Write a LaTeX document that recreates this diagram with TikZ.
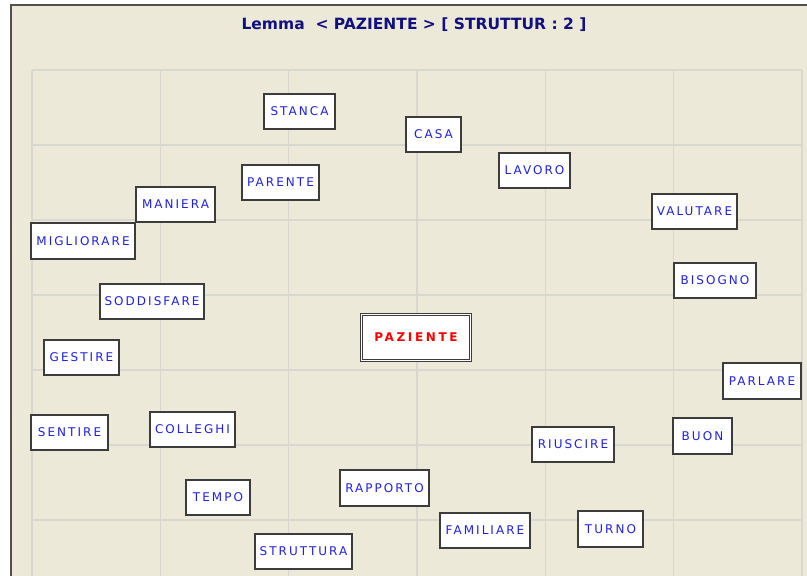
\documentclass[tikz,border=0pt]{standalone}
\usepackage{fontspec}
\setmainfont{DejaVu Sans}
\newfontfamily\boxfont[LetterSpace=17]{DejaVu Sans}
\newfontfamily\lemmafont[LetterSpace=22]{DejaVu Sans}
\newfontfamily\titlefont{DejaVu Sans}
\definecolor{panelbg}{RGB}{236,233,216}
\definecolor{gridline}{RGB}{216,215,208}
\definecolor{boxedge}{RGB}{60,60,60}
\definecolor{wordblue}{RGB}{32,32,228}
\definecolor{titleblue}{RGB}{16,16,128}
\definecolor{panelframe}{RGB}{80,80,76}
\begin{document}
\begin{tikzpicture}[x=1pt,y=-1pt,
  wordbox/.style={draw=boxedge, line width=2pt, fill=white, inner sep=0pt,
    minimum height=35pt, text=wordblue, font=\boxfont\fontsize{12}{14}\selectfont},
  lemmabox/.style={draw=boxedge, double=white, double distance=1.2pt, line width=1.1pt,
    fill=white, inner sep=0pt, minimum height=45.6pt, minimum width=108.6pt, text=red,
    font=\lemmafont\bfseries\fontsize{12}{14}\selectfont},
  gridstroke/.style={draw=gridline, line width=1.5pt}]
\useasboundingbox (0,0) rectangle (807,576);
% panel background and frame
\fill[white] (0,0) rectangle (807,576);
\fill[panelbg] (11,5) rectangle (807,576);
\draw[panelframe, line width=2pt] (11,576) -- (11,5) -- (807,5);
% title
\node[font=\titlefont\bfseries\fontsize{15.5}{18}\selectfont, text=titleblue] (title) at (414,25)
  {Lemma\ \ {<} PAZIENTE {>} [ STRUTTUR : 2 ]};
% background grid
\foreach \gx in {32,160.33,288.67,417,545.33,673.67,802}
  \draw[gridstroke] (\gx,70) -- (\gx,576);
\foreach \gy in {70,145,220,295,370,445,520}
  \draw[gridstroke] (32,\gy) -- (802,\gy);
% lemma
\node[lemmabox] (paziente) at (416,337.5) {PAZIENTE};
% related words
\node[wordbox, minimum width=71pt] (stanca) at (299.5,111.5) {STANCA};
\node[wordbox, minimum width=55pt] (casa) at (433.5,134.5) {CASA};
\node[wordbox, minimum width=71pt] (lavoro) at (534.5,170.5) {LAVORO};
\node[wordbox, minimum width=77pt] (parente) at (280.5,182.5) {PARENTE};
\node[wordbox, minimum width=79pt] (maniera) at (175.5,204.5) {MANIERA};
\node[wordbox, minimum width=85pt] (valutare) at (694.5,211.5) {VALUTARE};
\node[wordbox, minimum width=104pt, minimum height=36pt] (migliorare) at (83,241) {MIGLIORARE};
\node[wordbox, minimum width=82pt] (bisogno) at (715,280.5) {BISOGNO};
\node[wordbox, minimum width=104pt] (soddisfare) at (152,301.5) {SODDISFARE};
\node[wordbox, minimum width=75pt] (gestire) at (81.5,357.5) {GESTIRE};
\node[wordbox, minimum width=78pt, minimum height=36pt] (parlare) at (762,381) {PARLARE};
\node[wordbox, minimum width=77pt] (sentire) at (69.5,432.5) {SENTIRE};
\node[wordbox, minimum width=85pt] (colleghi) at (192.5,429.5) {COLLEGHI};
\node[wordbox, minimum width=59pt, minimum height=36pt] (buon) at (702.5,436) {BUON};
\node[wordbox, minimum width=82pt] (riuscire) at (573,444.5) {RIUSCIRE};
\node[wordbox, minimum width=89pt, minimum height=36pt] (rapporto) at (384.5,488) {RAPPORTO};
\node[wordbox, minimum width=64pt] (tempo) at (218,497.5) {TEMPO};
\node[wordbox, minimum width=90pt] (familiare) at (485,530.5) {FAMILIARE};
\node[wordbox, minimum width=65pt, minimum height=36pt] (turno) at (610.5,529) {TURNO};
\node[wordbox, minimum width=97pt] (struttura) at (303.5,551.5) {STRUTTURA};
\end{tikzpicture}
\end{document}
